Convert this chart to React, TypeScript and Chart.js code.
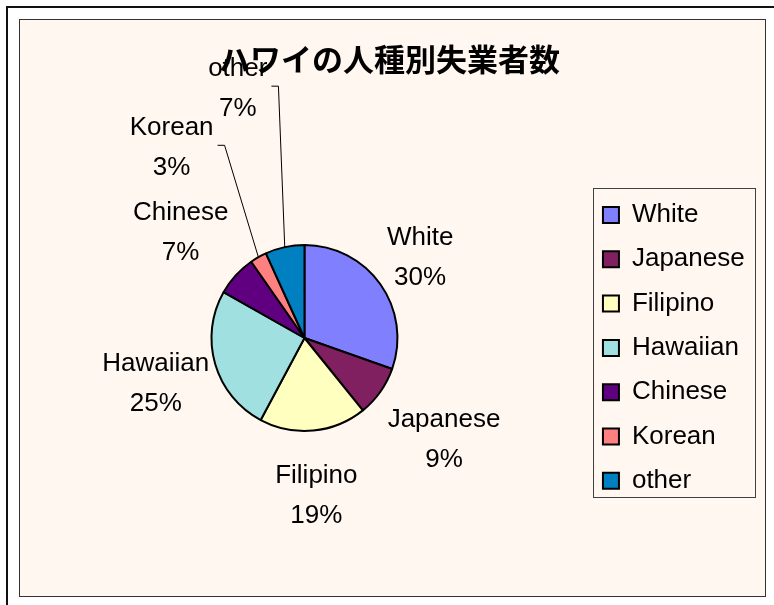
import React, { useEffect, useRef } from 'react';
import { Chart, registerables } from 'chart.js';

Chart.register(...registerables);

// ---- data ----
const TITLE = 'ハワイの人種別失業者数';
const categories = ['White', 'Japanese', 'Filipino', 'Hawaiian', 'Chinese', 'Korean', 'other'];
const shares = [30.4, 8.8, 18.6, 25.4, 7.1, 2.9, 6.8];
const sliceColors = ['#8080FF', '#802060', '#FFFFC0', '#A0E0E0', '#600080', '#FF8080', '#0080C0'];

// ---- style ----
const LABEL_FAMILY = '"Liberation Sans", Arial, sans-serif';
const LABEL_SIZE = 26;
const LINE_GAP = 40;
const LABEL_GAP = 24;
// small placement nudges (px) for the best-fit labels
const labelNudge: Record<string, [number, number]> = {
  White: [-7, 6],
  Japanese: [-2, 15],
  Filipino: [-3, 8],
  Hawaiian: [15, 4],
  Chinese: [-2, -4],
};
// labels that were dragged away from the pie: angle (deg, clockwise from 12 o'clock), distance in radii
const movedLabels: Record<string, { angle: number; dist: number }> = {
  Korean: { angle: 325, dist: 2.49 },
  other: { angle: 345, dist: 2.77 },
};

const sliceLabelPlugin = {
  id: 'sliceLabels',
  afterDatasetsDraw(chart: any) {
    const ctx = chart.ctx as CanvasRenderingContext2D;
    const meta = chart.getDatasetMeta(0);
    const data = chart.data.datasets[0].data as number[];
    const total = data.reduce((a, b) => a + b, 0);
    ctx.save();
    ctx.font = `${LABEL_SIZE}px ${LABEL_FAMILY}`;
    ctx.fillStyle = '#000';
    ctx.textAlign = 'center';
    ctx.textBaseline = 'middle';
    meta.data.forEach((arc: any, i: number) => {
      const p = arc.getProps(['x', 'y', 'startAngle', 'endAngle', 'outerRadius'], true);
      const name = String(chart.data.labels[i]);
      const lines = [name, Math.round((data[i] / total) * 100) + '%'];
      const w = Math.max(...lines.map((l) => ctx.measureText(l).width));
      const h = LINE_GAP + LABEL_SIZE;
      const mid = (p.startAngle + p.endAngle) / 2;
      const ux = Math.cos(mid);
      const uy = Math.sin(mid);
      let cx: number;
      let cy: number;
      const moved = movedLabels[name];
      if (moved) {
        const a = (moved.angle * Math.PI) / 180 - Math.PI / 2;
        cx = p.x + Math.cos(a) * moved.dist * p.outerRadius;
        cy = p.y + Math.sin(a) * moved.dist * p.outerRadius;
      } else {
        const n = labelNudge[name] || [0, 0];
        cx = p.x + ux * (p.outerRadius + LABEL_GAP) + (ux * w) / 2 + n[0];
        cy = p.y + uy * (p.outerRadius + LABEL_GAP) + (uy * h) / 2 + n[1];
      }
      ctx.fillText(lines[0], cx, cy - LINE_GAP / 2);
      ctx.fillText(lines[1], cx, cy + LINE_GAP / 2);
      if (moved) {
        const sx = cx + w / 2 + 4;
        const sy = cy - 3;
        ctx.beginPath();
        ctx.strokeStyle = '#000';
        ctx.lineWidth = 1;
        ctx.moveTo(sx, sy);
        ctx.lineTo(sx + 7, sy);
        ctx.lineTo(p.x + ux * p.outerRadius, p.y + uy * p.outerRadius);
        ctx.stroke();
      }
    });
    ctx.restore();
  },
};

const legendFramePlugin = {
  id: 'legendFrame',
  afterDraw(chart: any) {
    const hb = chart.legend?.legendHitBoxes;
    if (!hb || !hb.length) return;
    const ctx = chart.ctx as CanvasRenderingContext2D;
    const left = hb[0].left - 10;
    const right = Math.max(...hb.map((b: any) => b.left + b.width)) + 10;
    const top = hb[0].top - 14;
    const last = hb[hb.length - 1];
    const bottom = last.top + last.height + 3;
    ctx.save();
    ctx.strokeStyle = '#404040';
    ctx.lineWidth = 1;
    ctx.strokeRect(Math.round(left) + 0.5, Math.round(top) + 0.5, Math.round(right - left), Math.round(bottom - top));
    ctx.restore();
  },
};

export default function App() {
  const ref = useRef<HTMLCanvasElement>(null);
  useEffect(() => {
    if (!ref.current) return;
    const chart = new Chart(ref.current, {
      type: 'pie',
      data: {
        labels: categories,
        datasets: [
          {
            data: shares,
            backgroundColor: sliceColors,
            borderColor: '#000',
            borderWidth: 2,
            radius: 93,
          } as any,
        ],
      },
      options: {
        responsive: false,
        animation: false,
        events: [],
        layout: { padding: { top: 0, bottom: 8.6, left: 4.3, right: 10.3 } },
        plugins: {
          title: {
            display: true,
            text: TITLE,
            color: '#000',
            font: { family: '"Noto Sans CJK JP", sans-serif', size: 31, weight: 'bold' },
            padding: { top: 20.4, bottom: 11 },
          },
          legend: {
            position: 'right',
            fullSize: false,
            title: { display: true, text: '', font: { size: 10 }, padding: { top: 3.9, bottom: 3.9 } },
            labels: {
              boxWidth: 16,
              boxHeight: 16,
              padding: 18.3,
              color: '#000',
              font: { family: LABEL_FAMILY, size: LABEL_SIZE },
            },
          },
          tooltip: { enabled: false },
        },
      },
      plugins: [sliceLabelPlugin, legendFramePlugin],
    });
    return () => chart.destroy();
  }, []);

  return (
    <div>
      <div
        style={{
          position: 'fixed',
          left: 6,
          top: 6,
          width: 2000,
          height: 2000,
          borderTop: '2px solid #111',
          borderLeft: '2px solid #111',
          background: '#fff',
        }}
      />
      <div
        style={{
          position: 'fixed',
          left: 19,
          top: 19,
          width: 747,
          height: 578,
          boxSizing: 'border-box',
          border: '1px solid #333',
          background: '#FFF7F0',
        }}
      >
        <canvas ref={ref} width={745} height={576} style={{ display: 'block' }} />
      </div>
    </div>
  );
}
